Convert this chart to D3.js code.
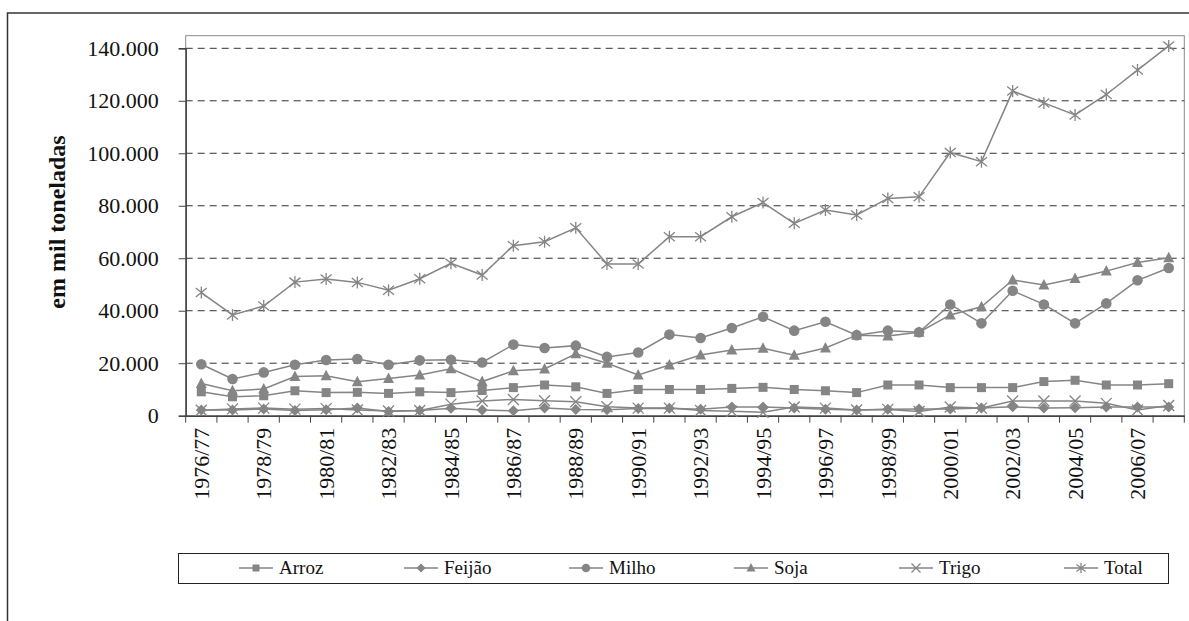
<!DOCTYPE html>
<html>
<head>
<meta charset="utf-8">
<script src="https://cdn.jsdelivr.net/npm/d3@7"></script>
<style>
  body { margin: 0; background: #fff; }
  svg text { font-family: "Liberation Serif", "Times New Roman", serif; }
</style>
</head>
<body>
<div id="chart"></div>
<script>
var width = 1189;
var height = 621;

var seasons = ["1976/77", "1977/78", "1978/79", "1979/80", "1980/81", "1981/82", "1982/83", "1983/84",
    "1984/85", "1985/86", "1986/87", "1987/88", "1988/89", "1989/90", "1990/91", "1991/92",
    "1992/93", "1993/94", "1994/95", "1995/96", "1996/97", "1997/98", "1998/99", "1999/00",
    "2000/01", "2001/02", "2002/03", "2003/04", "2004/05", "2005/06", "2006/07", "2007/08"];

// em mil toneladas
var arroz = [9100, 7200, 7600, 9500, 8800, 8900, 8500, 9100, 8800, 9600, 10700, 11700, 11000, 8500, 10000, 10000,
    10000, 10400, 10800, 10000, 9500, 8800, 11700, 11700, 10700, 10700, 10700, 13000, 13500, 11700, 11700, 12200];
var feijao = [2200, 2200, 2600, 2000, 2300, 2900, 1600, 2000, 2800, 2200, 1900, 2900, 2400, 2300, 2700, 2800,
    2500, 3300, 3300, 2900, 2500, 2200, 2500, 2600, 2600, 2900, 3400, 2900, 3000, 3300, 3300, 3300];
var milho = [19600, 14000, 16500, 19400, 21200, 21600, 19400, 21100, 21300, 20300, 27100, 25800, 26700, 22400, 24100, 30900,
    29600, 33400, 37700, 32400, 35800, 30700, 32400, 31800, 42400, 35200, 47600, 42400, 35200, 42800, 51600, 56300];
var soja = [12300, 9500, 10200, 14900, 15200, 12900, 14200, 15500, 17900, 13000, 17100, 17800, 23600, 20000, 15500, 19300,
    23100, 25000, 25700, 23000, 25800, 30700, 30400, 31800, 38400, 41500, 51700, 49800, 52300, 55100, 58400, 60200];
var trigo = [2100, 2600, 2900, 2500, 2700, 2200, 1800, 2000, 4400, 5600, 6200, 5700, 5300, 3400, 2900, 2900,
    2000, 1700, 1300, 3300, 2900, 2200, 2400, 1600, 3300, 2900, 5600, 5600, 5600, 4700, 2200, 3900];
var total = [46900, 38400, 41800, 50900, 52100, 50800, 47800, 52200, 58100, 53600, 64800, 66300, 71600, 57800, 57800, 68200,
    68200, 75800, 81200, 73300, 78400, 76500, 82800, 83400, 100300, 96800, 123700, 119200, 114600, 122400, 131700, 140900];

var yTicks = [0, 20000, 40000, 60000, 80000, 100000, 120000, 140000];

var seriesNames = ["Arroz", "Feijão", "Milho", "Soja", "Trigo", "Total"];
var seriesValues = [arroz, feijao, milho, soja, trigo, total];
var seriesMarkers = ["square", "diamond", "circle", "triangle", "x", "asterisk"];

var grey = '#858585';
var serif = '"Liberation Serif", "Times New Roman", serif';

var svg = d3.select('#chart')
    .append('svg')
        .attr('width', width)
        .attr('height', height);

// outer frame
svg.append('rect')
    .attr('x', 7.5)
    .attr('y', 13)
    .attr('width', 1200)
    .attr('height', 700)
    .attr('fill', '#fff')
    .attr('stroke', '#333')
    .attr('stroke-width', 1.5);

var x = d3.scaleBand()
    .domain(seasons)
    .range([185.7, 1184.3]);

var y = d3.scaleLinear()
    .domain([0, 140000])
    .range([415.7, 48.3]);

var ptBr = d3.formatLocale({ decimal: ",", thousands: ".", grouping: [3], currency: ["R$", ""] });
var fmt = ptBr.format(",");

// plot area border
svg.append('rect')
    .attr('x', 185.7)
    .attr('y', 35.7)
    .attr('width', 1184.3 - 185.7)
    .attr('height', 415.7 - 35.7)
    .attr('fill', 'none')
    .attr('stroke', '#8a8a8a')
    .attr('stroke-width', 1);

// grid
svg.append('g')
    .selectAll('line')
    .data(yTicks.filter(d => d > 0))
    .enter()
    .append('line')
        .attr('x1', 185.7)
        .attr('x2', 1184.3)
        .attr('y1', d => y(d))
        .attr('y2', d => y(d))
        .attr('stroke', '#333')
        .attr('stroke-width', 1)
        .attr('stroke-dasharray', '7,5');

// y axis
var yAxis = svg.append('g')
    .attr('transform', 'translate(185.7,0)')
    .call(d3.axisLeft(y).tickValues(yTicks).tickFormat(fmt).tickSize(7).tickPadding(20));

yAxis.attr('font-family', null).attr('font-size', null);
yAxis.select('.domain').attr('stroke', '#444').attr('stroke-width', 1.5);
yAxis.selectAll('.tick line').attr('stroke', '#444');
yAxis.selectAll('.tick text')
    .style('font-size', '22px')
    .style('font-family', serif)
    .attr('fill', '#111');

// x axis
var xAxis = svg.append('g')
    .attr('transform', 'translate(0,415.7)')
    .call(d3.axisBottom(x).tickValues(seasons.filter((d, i) => i % 2 == 0)).tickSize(0).tickPadding(0));

xAxis.attr('font-family', null).attr('font-size', null);
xAxis.select('.domain').attr('stroke', '#444').attr('stroke-width', 1.5);
xAxis.selectAll('.tick text')
    .style('font-size', '22px')
    .style('font-family', serif)
    .attr('fill', '#111')
    .attr('text-anchor', 'end')
    .attr('transform', 'rotate(-90)')
    .attr('x', -12)
    .attr('y', 0)
    .attr('dy', '0.35em');

// tick marks between categories
xAxis.selectAll('.boundary')
    .data(seasons.concat(['end']))
    .enter()
    .append('line')
        .attr('class', 'boundary')
        .attr('x1', d => d == 'end' ? x.range()[1] : x(d))
        .attr('x2', d => d == 'end' ? x.range()[1] : x(d))
        .attr('y1', 0)
        .attr('y2', 7)
        .attr('stroke', '#444');

// y label
svg.append('text')
    .attr('transform', 'translate(65,222) rotate(-90)')
    .attr('text-anchor', 'middle')
    .style('font-size', '24px')
    .style('font-family', serif)
    .attr('font-weight', 'bold')
    .attr('fill', '#111')
    .text('em mil toneladas');

function drawMarker(g, type, s) {
    if (type == 'square') {
        g.append('rect').attr('x', -s).attr('y', -s).attr('width', 2 * s).attr('height', 2 * s).attr('fill', grey);
    } else if (type == 'diamond') {
        g.append('path').attr('d', 'M0,' + (-s - 1) + 'L' + (s + 1) + ',0L0,' + (s + 1) + 'L' + (-s - 1) + ',0Z').attr('fill', grey);
    } else if (type == 'circle') {
        g.append('circle').attr('r', s + 0.8).attr('fill', grey);
    } else if (type == 'triangle') {
        g.append('path').attr('d', 'M0,' + (-s - 1.5) + 'L' + (s + 1) + ',' + (s) + 'L' + (-s - 1) + ',' + (s) + 'Z').attr('fill', grey);
    } else if (type == 'x') {
        g.append('path').attr('d', 'M' + (-s - 1) + ',' + (-s - 1) + 'L' + (s + 1) + ',' + (s + 1) + 'M' + (s + 1) + ',' + (-s - 1) + 'L' + (-s - 1) + ',' + (s + 1))
            .attr('stroke', grey).attr('stroke-width', 1.3).attr('fill', 'none');
    } else if (type == 'asterisk') {
        g.append('path').attr('d', 'M' + (-s - 1) + ',' + (-s) + 'L' + (s + 1) + ',' + (s) + 'M' + (s + 1) + ',' + (-s) + 'L' + (-s - 1) + ',' + (s) + 'M0,' + (-s - 1.5) + 'L0,' + (s + 1.5))
            .attr('stroke', grey).attr('stroke-width', 1.3).attr('fill', 'none');
    }
}

var line = d3.line()
    .x((d, i) => x(seasons[i]) + x.bandwidth() / 2)
    .y(d => y(d));

var plot = svg.append('g').attr('class', 'plot');

seriesValues.forEach(function(vals, k) {
    var g = plot.append('g').attr('class', 'series');
    g.append('path')
        .datum(vals)
        .attr('d', line)
        .attr('fill', 'none')
        .attr('stroke', grey)
        .attr('stroke-width', 1.5);

    g.selectAll('.pt')
        .data(vals)
        .enter()
        .append('g')
            .attr('class', 'pt')
            .attr('transform', (d, i) => 'translate(' + (x(seasons[i]) + x.bandwidth() / 2) + ',' + y(d) + ')')
            .each(function() { drawMarker(d3.select(this), seriesMarkers[k], 4.5); });
});

// legend
var legend = svg.append('g');

legend.append('rect')
    .attr('x', 178.5)
    .attr('y', 553.5)
    .attr('width', 990)
    .attr('height', 30)
    .attr('fill', '#fff')
    .attr('stroke', '#222')
    .attr('stroke-width', 1);

var legendRow = legend.selectAll('.legendRow')
    .data(seriesNames)
    .enter()
    .append('g')
        .attr('class', 'legendRow')
        .attr('transform', (d, i) => 'translate(' + (239 + i * 165) + ',568)');

legendRow.append('line')
    .attr('x1', 0)
    .attr('x2', 34)
    .attr('stroke', grey)
    .attr('stroke-width', 1.5);

legendRow.each(function(d, i) {
    var m = d3.select(this).append('g').attr('transform', 'translate(17,0)');
    drawMarker(m, seriesMarkers[i], 3.5);
});

legendRow.append('text')
    .attr('x', 40)
    .attr('dy', '0.33em')
    .style('font-size', '19px')
    .style('font-family', serif)
    .attr('fill', '#111')
    .text(d => d);
</script>
</body>
</html>
